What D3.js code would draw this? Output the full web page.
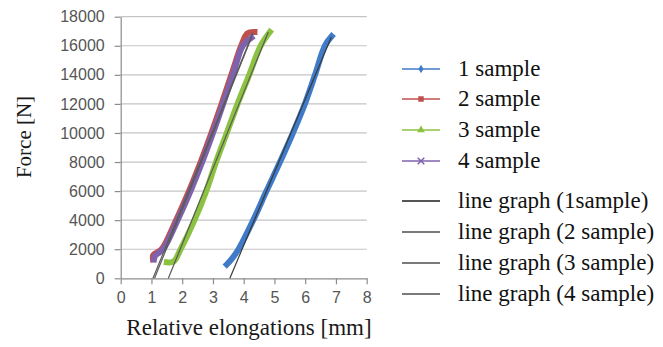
<!DOCTYPE html>
<html>
<head>
<meta charset="utf-8">
<script src="https://cdn.jsdelivr.net/npm/d3@7"></script>
<style>
  body { margin: 0; background: #fff; }
  svg { display: block; }
</style>
</head>
<body>
<div id="chart"></div>
<script>
// tick values
const xTicks = [0, 1, 2, 3, 4, 5, 6, 7, 8];
const yTicks = [0, 2000, 4000, 6000, 8000, 10000, 12000, 14000, 16000, 18000];

// measured curves (elongation mm, force N)
const sample1Elong = [3.45, 3.6, 3.83, 4.31, 4.74, 5.18, 5.6, 5.99, 6.32, 6.64, 6.86];
const sample1Force = [950, 1300, 2000, 4000, 6000, 8000, 10000, 12000, 14000, 16000, 16650];
const sample2Elong = [1.05, 1.06, 1.33, 1.8, 2.22, 2.6, 2.95, 3.28, 3.6, 3.92, 4.12, 4.35];
const sample2Force = [1300, 1600, 2000, 4000, 6000, 8000, 10000, 12000, 14000, 16000, 16850, 16950];
const sample3Elong = [1.5, 1.72, 1.95, 2.4, 2.78, 3.1, 3.45, 3.8, 4.18, 4.55, 4.85];
const sample3Force = [1100, 1150, 2000, 4000, 6000, 8000, 10000, 12000, 14000, 16000, 16950];
const sample4Elong = [1.08, 1.12, 1.38, 1.85, 2.27, 2.65, 3.0, 3.33, 3.65, 3.97, 4.25];
const sample4Force = [1300, 1550, 2000, 4000, 6000, 8000, 10000, 12000, 14000, 16000, 16550];

// fitted straight lines
const fit1Elong = [3.55, 6.85];
const fit1Force = [0, 16600];
const fit2Elong = [1.05, 4.3];
const fit2Force = [0, 16900];
const fit3Elong = [1.55, 4.8];
const fit3Force = [0, 16950];
const fit4Elong = [1.1, 4.25];
const fit4Force = [0, 16550];

const sampleNames = ['1 sample', '2 sample', '3 sample', '4 sample'];
const fitNames = ['line graph (1sample)', 'line graph (2 sample)', 'line graph (3 sample)', 'line graph (4 sample)'];

const sampleColors = ['#3f7bc8', '#c0504d', '#8cc241', '#7f62ae'];
const fitColors = ['#3a3a3a', '#5a5a5a', '#5a5a5a', '#5a5a5a'];

const zip = (xs, ys) => xs.map((v, i) => ({ x: v, y: ys[i] }));
const samples = [
  zip(sample1Elong, sample1Force),
  zip(sample2Elong, sample2Force),
  zip(sample3Elong, sample3Force),
  zip(sample4Elong, sample4Force)
];
const fits = [
  zip(fit1Elong, fit1Force),
  zip(fit2Elong, fit2Force),
  zip(fit3Elong, fit3Force),
  zip(fit4Elong, fit4Force)
];

const W = 663, H = 347;
const svg = d3.select('#chart').append('svg')
  .attr('width', W)
  .attr('height', H);

const x = d3.scaleLinear().domain([0, 8]).range([120.7, 366.7]);
const y = d3.scaleLinear().domain([0, 18000]).range([278.3, 16.7]);

const serifStyle = size => `font-family:'Liberation Serif';font-size:${size}px`;

// gridlines
svg.append('g')
  .selectAll('line')
  .data(yTicks.slice(1))
  .enter()
  .append('line')
  .attr('x1', x(0)).attr('x2', x(8))
  .attr('y1', d => y(d)).attr('y2', d => y(d))
  .attr('stroke', '#c4c4c4')
  .attr('stroke-width', 1.2);

// y axis
const yAxis = svg.append('g')
  .attr('transform', `translate(${x(0)},0)`)
  .call(d3.axisLeft(y).tickValues(yTicks).tickFormat(d3.format('d'))
    .tickSize(6).tickSizeOuter(0).tickPadding(10));

// x axis
const xAxis = svg.append('g')
  .attr('transform', `translate(0,${y(0)})`)
  .call(d3.axisBottom(x).tickValues(xTicks).tickFormat(d3.format('d'))
    .tickSize(6).tickSizeOuter(0).tickPadding(7));

[yAxis, xAxis].forEach(a => {
  a.attr('font-family', null).attr('font-size', null);
  a.select('.domain').attr('stroke', '#8c8c8c').attr('stroke-width', 1.2);
  a.selectAll('.tick line').attr('stroke', '#8c8c8c').attr('stroke-width', 1.2);
  a.selectAll('.tick text')
    .attr('style', "font-family:'Liberation Sans';font-size:16px")
    .attr('fill', '#555555');
});

// sample curves
const line = d3.line()
  .x(d => x(d.x))
  .y(d => y(d.y))
  .curve(d3.curveCatmullRom);

samples.forEach((s, i) => {
  svg.append('path')
    .datum(s)
    .attr('fill', 'none')
    .attr('stroke', sampleColors[i])
    .attr('stroke-width', 6)
    .attr('stroke-linejoin', 'round')
    .attr('stroke-linecap', 'square')
    .attr('d', line);
});

// fitted lines
fits.forEach((f, i) => {
  svg.append('path')
    .datum(f)
    .attr('fill', 'none')
    .attr('stroke', fitColors[i])
    .attr('stroke-width', 1.2)
    .attr('d', d3.line().x(d => x(d.x)).y(d => y(d.y)));
});

// axis titles
svg.append('text')
  .attr('x', 249)
  .attr('y', 335)
  .attr('text-anchor', 'middle')
  .attr('style', serifStyle(23))
  .attr('fill', '#1a1a1a')
  .text('Relative elongations [mm]');

svg.append('text')
  .attr('transform', 'translate(31,137) rotate(-90)')
  .attr('text-anchor', 'middle')
  .attr('style', serifStyle(21))
  .attr('fill', '#1a1a1a')
  .text('Force [N]');

// legend
const legendRows = [69, 99, 130, 161, 201, 232, 263, 294];
const legend = svg.append('g');
const lx1 = 402, lx2 = 440, tx = 458;

sampleNames.forEach((name, i) => {
  const g = legend.append('g').attr('transform', `translate(0,${legendRows[i]})`);
  g.append('line')
    .attr('x1', lx1).attr('x2', lx2)
    .attr('stroke', sampleColors[i])
    .attr('stroke-opacity', 0.75)
    .attr('stroke-width', 2);
  const cx = (lx1 + lx2) / 2;
  const sym = [d3.symbolDiamond, d3.symbolSquare, d3.symbolTriangle, d3.symbolX][i];
  const size = [22, 30, 26, 30][i];
  g.append('path')
    .attr('transform', `translate(${cx},0)`)
    .attr('d', d3.symbol().type(sym).size(size))
    .attr('fill', i === 3 ? 'none' : sampleColors[i])
    .attr('stroke', i === 3 ? sampleColors[i] : 'none')
    .attr('stroke-width', 1.5);
  g.append('text')
    .attr('x', tx)
    .attr('y', 7)
    .attr('style', serifStyle(23))
    .attr('fill', '#111')
    .text(name);
});

fitNames.forEach((name, i) => {
  const g = legend.append('g').attr('transform', `translate(0,${legendRows[i + 4]})`);
  g.append('line')
    .attr('x1', lx1).attr('x2', lx2)
    .attr('stroke', i === 0 ? '#555' : '#7a7a7a')
    .attr('stroke-width', 2);
  g.append('text')
    .attr('x', tx)
    .attr('y', 7)
    .attr('style', serifStyle(23))
    .attr('fill', '#111')
    .text(name);
});
</script>
</body>
</html>
